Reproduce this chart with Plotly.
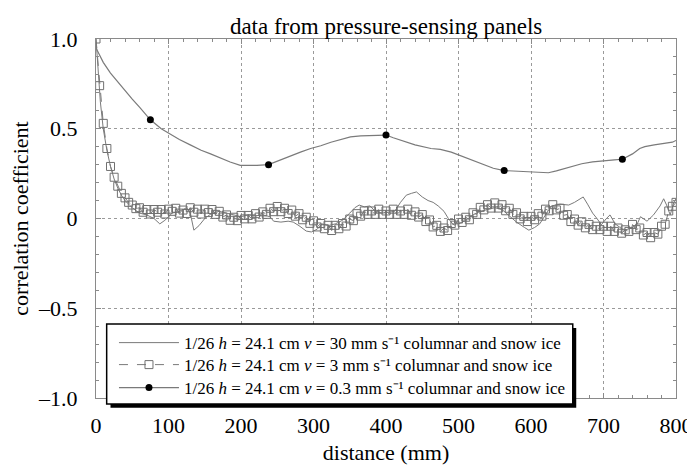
import plotly.graph_objects as go

# ---------------- data ----------------
# series v = 3 mm/s (open squares, every 5 mm)
sq_x = list(range(0, 805, 5))
sq_y = [1.0, 0.74, 0.53, 0.39, 0.29, 0.23, 0.18, 0.14, 0.115, 0.09,
        0.075, 0.055, 0.06, 0.035, 0.05, 0.025, 0.05, 0.035, 0.05, 0.025,
        0.052, 0.04, 0.057, 0.03, 0.047, 0.028, 0.06, 0.035, 0.052, 0.025,
        0.052, 0.033, 0.05, 0.023, 0.04, 0.008, 0.02, -0.01, 0.007, -0.012,
        0.017, -0.002, 0.017, -0.002, 0.027, 0.008, 0.037, 0.023, 0.057, 0.038,
        0.067, 0.038, 0.057, 0.028, 0.047, 0.013, 0.027, -0.007, 0.007, -0.027,
        -0.013, -0.047, -0.028, -0.057, -0.038, -0.067, -0.038, -0.057, -0.028, -0.042,
        -0.003, -0.012, 0.027, 0.013, 0.042, 0.023, 0.042, 0.023, 0.052, 0.023,
        0.042, 0.023, 0.052, 0.023, 0.042, 0.023, 0.052, 0.018, 0.037, 0.008,
        0.022, -0.017, -0.008, -0.047, -0.038, -0.072, -0.053, -0.067, -0.028, -0.037,
        -0.003, -0.022, 0.007, -0.007, 0.032, 0.023, 0.062, 0.048, 0.077, 0.058,
        0.087, 0.058, 0.077, 0.043, 0.057, 0.023, 0.032, -0.002, 0.012, -0.017,
        0.012, -0.007, 0.027, 0.013, 0.052, 0.043, 0.077, 0.048, 0.057, 0.018,
        0.022, -0.017, -0.003, -0.037, -0.018, -0.052, -0.033, -0.062, -0.043, -0.062,
        -0.043, -0.072, -0.043, -0.072, -0.053, -0.082, -0.063, -0.072, -0.033, -0.062,
        -0.053, -0.092, -0.078, -0.107, -0.078, -0.087, -0.043, -0.032, 0.042, 0.068,
        0.09]

# series v = 30 mm/s (thin solid line)
fast_x = [0, 3, 6, 10, 15, 20, 25, 30, 35, 40, 50, 60, 70, 80, 88, 95, 105, 115,
          125, 130, 135, 142, 150, 160, 170, 180, 190, 200, 210, 220, 230, 240,
          245, 255, 265, 272, 280, 290, 297, 305, 312, 320, 330, 340, 350, 357,
          363, 370, 378, 385, 395, 405, 412, 420, 428, 435, 442, 450, 458, 465,
          472, 480, 486, 492, 500, 510, 520, 530, 540, 550, 560, 569, 580, 591,
          597, 605, 612, 620, 628, 640, 652, 660, 668, 672, 678, 685, 691, 697,
          704, 709, 716, 722, 728, 738, 746, 751, 760, 769, 778, 783, 787, 792,
          797, 800]
fast_y = [1.0, 0.8, 0.65, 0.5, 0.38, 0.29, 0.22, 0.17, 0.13, 0.1, 0.06, 0.03,
          0.02, 0.0, -0.03, -0.01, 0.03, 0.04, 0.06, 0.03, -0.065, -0.04, 0.0,
          0.03, 0.04, 0.03, 0.02, 0.01, 0.02, 0.015, 0.02, 0.01, -0.015, -0.02,
          -0.015, -0.02, -0.04, -0.07, -0.075, -0.06, -0.03, -0.04, -0.03, -0.01,
          0.03, 0.06, 0.075, 0.065, 0.07, 0.04, 0.03, 0.035, 0.04, 0.09, 0.13,
          0.14, 0.148, 0.12, 0.1, 0.09, 0.07, 0.04, 0.0, -0.03, -0.03, -0.01,
          0.02, 0.04, 0.05, 0.06, 0.05, 0.02, -0.02, -0.05, -0.065, -0.05,
          -0.03, 0.02, 0.07, 0.08, 0.075, 0.09, 0.11, 0.12, 0.08, 0.03, 0.0,
          -0.035, 0.0, 0.02, -0.03, -0.05, -0.065, -0.055, -0.035, 0.01, -0.015,
          0.02, 0.07, 0.11, 0.075, 0.02, 0.09, 0.11]

# series v = 0.3 mm/s (line with filled dots)
slow_x = [0, 5, 10, 20, 30, 40, 50, 60, 75, 90, 102, 115, 130, 145, 158, 172,
          185, 199, 210, 222, 238, 250, 268, 282, 296, 310, 324, 338, 351, 365,
          379, 390, 400, 410, 421, 440, 462, 475, 490, 510, 531, 548, 563, 575,
          587, 605, 624, 635, 647, 660, 670, 685, 702, 715, 726, 740, 750, 757,
          770, 785, 795, 800]
slow_y = [0.95, 0.91, 0.87, 0.81, 0.76, 0.71, 0.665, 0.62, 0.55, 0.5, 0.47,
          0.44, 0.41, 0.38, 0.36, 0.335, 0.315, 0.296, 0.295, 0.296, 0.3, 0.32,
          0.35, 0.37, 0.39, 0.405, 0.425, 0.44, 0.455, 0.46, 0.463, 0.465,
          0.465, 0.45, 0.435, 0.41, 0.39, 0.385, 0.37, 0.34, 0.305, 0.28, 0.267,
          0.264, 0.263, 0.26, 0.255, 0.265, 0.278, 0.295, 0.305, 0.315, 0.324,
          0.327, 0.33, 0.36, 0.39, 0.4, 0.41, 0.417, 0.425, 0.435]
slow_marked = [75, 238, 400, 563, 726]

x_ticks = [0, 100, 200, 300, 400, 500, 600, 700, 800]
y_ticks = [-1.0, -0.5, 0, 0.5, 1.0]
y_ticktext = ["\u20131.0", "\u20130.5", "0", "0.5", "1.0"]

names = [
    "1/26 <i>h</i> = 24.1 cm <i>v</i> = 30 mm s\u207b\u00b9 columnar and snow ice",
    "1/26 <i>h</i> = 24.1 cm <i>v</i> = 3 mm s\u207b\u00b9 columnar and snow ice",
    "1/26 <i>h</i> = 24.1 cm <i>v</i> = 0.3 mm s\u207b\u00b9 columnar and snow ice",
]

FONT = "Liberation Serif, Times New Roman, serif"
GRAY = "#7a7a7a"
mark_x = [xv for xv in slow_x if xv in slow_marked]
mark_y = [yv for xv, yv in zip(slow_x, slow_y) if xv in slow_marked]

fig = go.Figure()
fig.add_trace(go.Scatter(
    x=fast_x, y=fast_y, mode="lines", name=names[0], legend="legend",
    line=dict(color=GRAY, width=1)))
fig.add_trace(go.Scatter(
    x=sq_x, y=sq_y, mode="lines+markers", name=names[1], legend="legend2",
    line=dict(color=GRAY, width=1, dash="dash"),
    marker=dict(symbol="square-open", size=8, color="#707070",
                line=dict(width=1))))
fig.add_trace(go.Scatter(
    x=slow_x, y=slow_y, mode="lines", name=names[2], showlegend=False,
    legend="legend3", line=dict(color=GRAY, width=1.2)))
fig.add_trace(go.Scatter(
    x=mark_x, y=mark_y, mode="markers", name=names[2], showlegend=False,
    legend="legend3", marker=dict(color="black", size=7)))
# legend-only entry for the slow series (line with dot)
fig.add_trace(go.Scatter(
    x=[None], y=[None], mode="lines+markers", name=names[2],
    legend="legend3", line=dict(color=GRAY, width=1.2),
    marker=dict(color="black", size=7)))

# legend box with drop shadow (paper coords)
fig.add_shape(type="rect", xref="paper", yref="paper",
              x0=0.025, x1=0.828, y0=-0.027, y1=0.195,
              fillcolor="black", line=dict(width=0), layer="above")
fig.add_shape(type="rect", xref="paper", yref="paper",
              x0=0.0184, x1=0.822, y0=-0.0167, y1=0.2058,
              fillcolor="white", line=dict(color="black", width=1.5),
              layer="above")

axis_common = dict(
    showline=True, linecolor="#8a8a8a", linewidth=1, mirror="allticks",
    ticks="inside", tickcolor="#8a8a8a", ticklen=5,
    showgrid=True, gridcolor="#9a9a9a", griddash="dot", gridwidth=1,
    zeroline=False, automargin=False,
    tickfont=dict(family=FONT, size=22, color="black"),
)

fig.update_xaxes(
    range=[0, 800], tickvals=x_ticks,
    minor=dict(dtick=20, ticks="inside", ticklen=3, tickcolor="#8a8a8a", showgrid=False),
    title=dict(text="distance (mm)", font=dict(family=FONT, size=22, color="black"),
               standoff=7),
    ticklabelstandoff=8,
    **axis_common)
fig.update_yaxes(
    range=[-1, 1], tickvals=y_ticks, ticktext=y_ticktext,
    minor=dict(dtick=0.1, ticks="inside", ticklen=3, tickcolor="#8a8a8a", showgrid=False),
    title=dict(text="correlation coefficient", font=dict(family=FONT, size=22, color="black"),
               standoff=5),
    ticklabelstandoff=13,
    **axis_common)

legend_common = dict(
    x=0.031, xanchor="left", yanchor="middle",
    bgcolor="rgba(255,255,255,0)", borderwidth=0,
    font=dict(family=FONT, size=17, color="black"),
    itemwidth=60, tracegroupgap=0,
)

# the page body adds an 8 px offset, so margins are shifted by 8 px
fig.update_layout(
    template="none",
    width=695, height=472,
    margin=dict(l=88, r=27, t=30.5, b=82, autoexpand=False),
    paper_bgcolor="white", plot_bgcolor="white",
    title=dict(text="data from pressure-sensing panels", x=0.544, xanchor="center",
               y=0.963, yanchor="middle",
               font=dict(family=FONT, size=23, color="black")),
    showlegend=True,
    legend=dict(y=0.153, **legend_common),
    legend2=dict(y=0.0918, **legend_common),
    legend3=dict(y=0.0278, **legend_common),
)

fig.write_html("out.html")
